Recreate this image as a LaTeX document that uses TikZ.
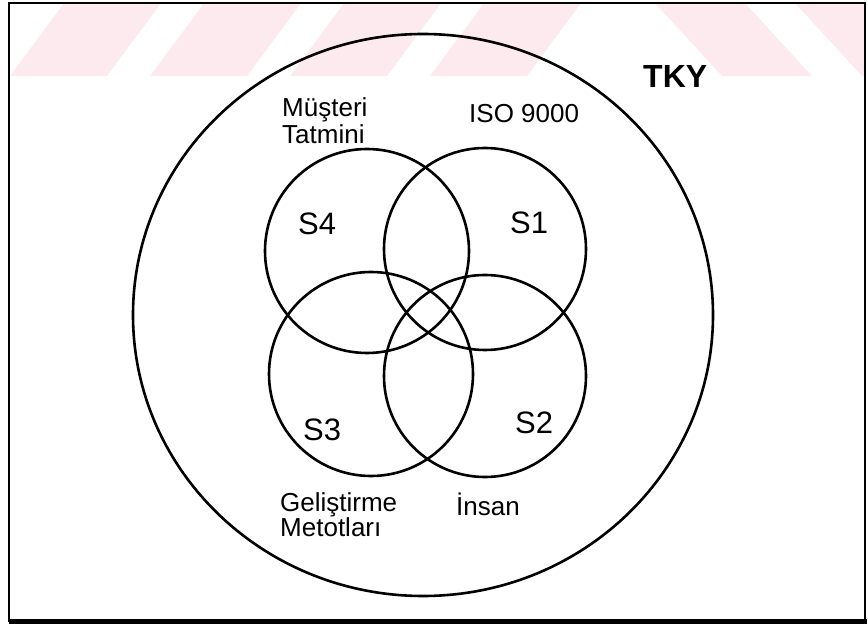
\documentclass[tikz,border=0pt]{standalone}
\usepackage{fontspec}
\setmainfont{Liberation Sans}
\definecolor{wmpink}{RGB}{253,234,238}
\begin{document}
\begin{tikzpicture}[x=1pt, y=-1pt,
    ring/.style={line width=2.6pt},
    lbl/.style={inner sep=0pt, font=\fontsize{26}{27}\selectfont, align=left},
    sset/.style={inner sep=0pt, font=\fontsize{31}{31}\selectfont}]
    \useasboundingbox (0,0) rectangle (868,628);
    % faint stripes along the top
    \begin{scope}
        \clip (9,3) rectangle (865,76);
        \foreach \xb in {10,150,290,430}
            \fill[wmpink] (\xb,76) -- (\xb+97,76) -- (\xb+152,2) -- (\xb+55,2) -- cycle;
        \foreach \xt in {654,794}
            \fill[wmpink] (\xt,2) -- (\xt+90,2) -- (\xt+158,76) -- (\xt+68,76) -- cycle;
    \end{scope}
    % frame
    \draw[line width=1.6pt] (9,3) rectangle (865,621);
    \draw[line width=5pt] (9,621) -- (867,621);
    % sets
    \draw[ring] (423,315) ellipse [x radius=290pt, y radius=281pt];
    \draw[ring] (367,251) circle [radius=102pt];
    \draw[ring] (485,249) circle [radius=101pt];
    \draw[ring] (371,374) circle [radius=102pt];
    \draw[ring] (485,376) circle [radius=101pt];
    % labels
    \node[inner sep=0pt, anchor=base west, font=\fontsize{32}{32}\selectfont\bfseries] (tky) at (643,88) {TKY};
    \node[lbl, anchor=north west] (musteri) at (282,97.5) {Müşteri\\Tatmini};
    \node[lbl, anchor=base west] (iso) at (469,123) {ISO 9000};
    \node[lbl, anchor=north west, font=\fontsize{26}{23}\selectfont] (gelistirme) at (280,492) {Geliştirme\\Metotları};
    \node[lbl, anchor=base west] (insan) at (456,515) {İnsan};
    \node[sset, anchor=base west] (s4) at (298,235) {S4};
    \node[sset, anchor=base west] (s1) at (510,234) {S1};
    \node[sset, anchor=base west] (s3) at (303,440) {S3};
    \node[sset, anchor=base west] (s2) at (515,433) {S2};
\end{tikzpicture}
\end{document}
